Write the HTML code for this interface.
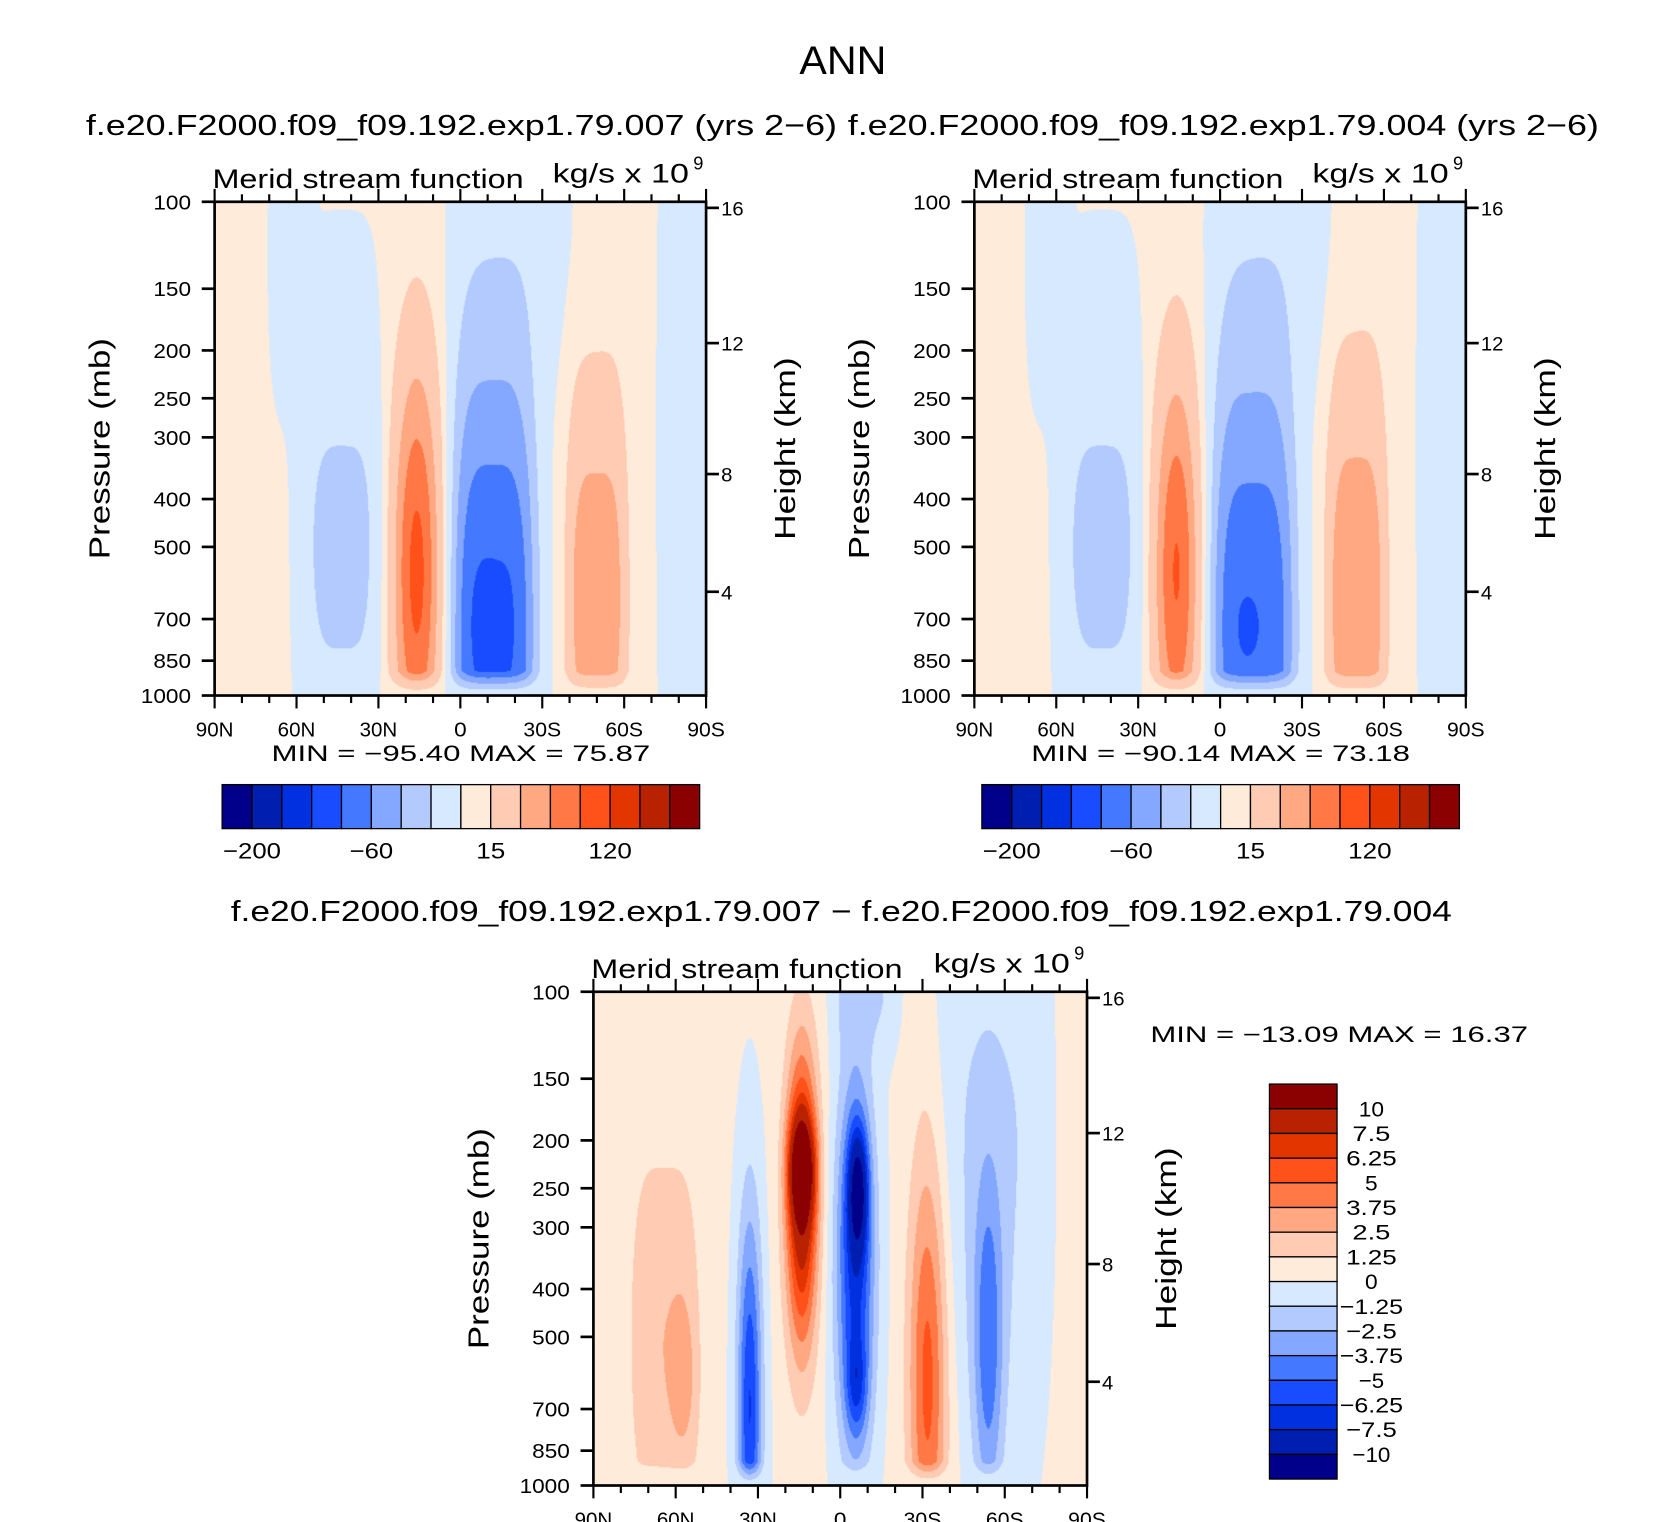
<!DOCTYPE html>
<html><head><meta charset="utf-8">
<style>
html,body{margin:0;padding:0;background:#fff;width:1674px;height:1522px;overflow:hidden}
#wrap{position:absolute;left:0;top:0;width:1560px;height:1418px;transform:scale(1.07308,1.07334);transform-origin:0 0}
canvas{position:absolute}
svg{position:absolute;left:0;top:0}
text{font-family:"Liberation Sans",sans-serif;fill:#000}
</style></head><body>
<div id="wrap">
<canvas id="c1" width="458" height="460" style="left:200px;top:188px"></canvas>
<canvas id="c2" width="458" height="460" style="left:908px;top:188px"></canvas>
<canvas id="c3" width="460" height="460" style="left:553px;top:924px"></canvas>
<svg id="s" width="1560" height="1418" viewBox="0 0 1560 1418"></svg>
</div>
<script>
// ---- shared data ----
const colors=["#00008a","#001fb0","#0030e0","#1a4cff","#4478ff","#84a8ff","#b3caff","#d7e9ff","#ffebd9","#ffcbb3","#ffa882","#ff7845","#ff5119","#e33500","#b82200","#8b0000"];
const levelsAbs=[-200,-160,-120,-80,-60,-40,-20,0,15,40,60,80,120,160,200];
const levelsAbsLabels=["-200","-60","15","120"];
const levelsDiff=[-10,-7.5,-6.25,-5,-3.75,-2.5,-1.25,0,1.25,2.5,3.75,5,6.25,7.5,10];
const levelsDiffLabels=["-10","-7.5","-6.25","-5","-3.75","-2.5","-1.25","0","1.25","2.5","3.75","5","6.25","7.5","10"];
const pressureTicks=[100,150,200,250,300,400,500,700,850,1000];
const heightTicks=[4,8,12,16];
const latTicks=[90,60,30,0,-30,-60,-90];
const latTickLabels=["90N","60N","30N","0","30S","60S","90S"];
// ---- panel 1 (exp 007) cells ----
const p1Lat=[16,-12,-10,43,-50,62,-85,-20];
const p1Pres=[562,724,724,501,631,126,316,130];
const p1LatWidth=[9,15.8,4,15,11,8,12,22];
const p1Shape=[2,4,2,4,4,4,4,4];
const p1Depth=[0.44,0.56,0.08,0.4,0.42,0.3,1.0,0.25];
const p1Amp=[85,-86,-12,-28,55,-6,-7,-7];
// ---- panel 2 (exp 004) cells ----
const p2Lat=[16,-12,-10,43,-50,63,-85,-20];
const p2Pres=[562,724,724,501,631,126,316,130];
const p2LatWidth=[8.5,15.8,3,15,11,8,12,22];
const p2Shape=[2,4,2,4,4,4,4,4];
const p2Depth=[0.42,0.56,0.05,0.4,0.45,0.3,1.0,0.25];
const p2Amp=[80,-80,-10,-28,57,-6,-7,-8];
// ---- panel 3 (difference) cells ----
const p3Lat=[14,14,-6.5,-5.5,-6,33,-32,-54,64,57,-55,-9];
const p3Pres=[229,263,251,355,631,692,603,525,501,617,200,100];
const p3LatWidth=[4.5,5.8,3.5,7,4,4.5,7,5.5,13,5,20,12];
const p3Shape=[2,2,2,2,2,2,2,2,4,2,4,4];
const p3Depth=[0.1,0.3,0.12,0.38,0.1,0.4,0.45,0.35,0.4,0.15,0.6,0.12];
const p3Amp=[8,9,-7,-7,-3,-6.5,5.3,-4.2,2.2,1.2,-1.5,-1.5];

function vOf(p){return Math.log10(p/100);}
function draw(id,W,H,lat,pres,lw,sh,dp,amp,levels,offset){
  const cv=document.getElementById(id),ctx=cv.getContext('2d');
  const img=ctx.createImageData(W,H);
  const rgb=colors.map(c=>[parseInt(c.substr(1,2),16),parseInt(c.substr(3,2),16),parseInt(c.substr(5,2),16)]);
  const vc=pres.map(vOf);
  for(let j=0;j<H;j++){
    const v=(j+0.5)/H;
    const taper=Math.min(1,(1-v)/0.05);
    for(let i=0;i<W;i++){
      const la=90-(i+0.5)/W*180;
      let s=offset;
      for(let k=0;k<lat.length;k++){
        const dl=Math.abs(la-lat[k])/lw[k],dv=(v-vc[k])/dp[k];
        s+=amp[k]*Math.exp(-Math.pow(dl,sh[k])-dv*dv);
      }
      s*=taper;
      let idx=0;for(const L of levels){if(s>=L)idx++;}
      const c=rgb[idx],o=(j*W+i)*4;
      img.data[o]=c[0];img.data[o+1]=c[1];img.data[o+2]=c[2];img.data[o+3]=255;
    }
  }
  ctx.putImageData(img,0,0);
}
draw('c1',458,460,p1Lat,p1Pres,p1LatWidth,p1Shape,p1Depth,p1Amp,levelsAbs,1.5);
draw('c2',458,460,p2Lat,p2Pres,p2LatWidth,p2Shape,p2Depth,p2Amp,levelsAbs,1.5);
draw('c3',460,460,p3Lat,p3Pres,p3LatWidth,p3Shape,p3Depth,p3Amp,levelsDiff,0.2);

const NS='http://www.w3.org/2000/svg',S=document.getElementById('s');
function el(tag,attrs,txt){const e=document.createElementNS(NS,tag);for(const k in attrs)e.setAttribute(k,attrs[k]);if(txt!==undefined)e.textContent=txt;S.appendChild(e);return e;}
function wt(attrs,s,len){attrs.textLength=len;attrs.lengthAdjust='spacingAndGlyphs';return el('text',attrs,s);}
function hPres(z){const m=z*1000;return m<=11000?1013.25*Math.pow(1-2.25577e-5*m,5.25588):226.32*Math.exp(-(m-11000)/6341.6);}

function axes(x0,y0,W,H,tag){
  const ys=p=>y0+vOf(p)*H, xs=l=>x0+(90-l)/180*W;
  let e=el('rect',{x:x0,y:y0,width:W,height:H,fill:'none',stroke:'#000','stroke-width':2.5});
  
  pressureTicks.forEach(p=>{
    let t=el('line',{x1:x0-12,x2:x0,y1:ys(p),y2:ys(p),stroke:'#000','stroke-width':2.5});
    
    const s=String(p);
    let l=wt({x:x0-22-s.length*11.7,y:ys(p)+7,'font-size':19},s,s.length*11.7);
    
  });
  heightTicks.forEach(z=>{
    const y=ys(hPres(z));
    let t=el('line',{x1:x0+W,x2:x0+W+12,y1:y,y2:y,stroke:'#000','stroke-width':2.5});
    
    const s=String(z);
    let l=wt({x:x0+W+14,y:y+7,'font-size':18},s,s.length*10.5);
    
  });
  for(let la=90;la>=-90;la-=10){
    const x=xs(la),maj=la%30===0,len=maj?12:7;
    let t=el('line',{x1:x,x2:x,y1:y0+H,y2:y0+H+len,stroke:'#000','stroke-width':2});
    
    let t2=el('line',{x1:x,x2:x,y1:y0,y2:y0-len,stroke:'#000','stroke-width':2});
    
  }
  latTicks.forEach((la,i)=>{
    const s=latTickLabels[i];
    let l=wt({x:xs(la)-s.length*11.7/2,y:y0+H+38,'font-size':19},s,s.length*11.7);
    
  });
  let a=wt({x:-103,y:0,'font-size':27,transform:`translate(${x0-98},${y0+230}) rotate(-90)`},'Pressure (mb)',206);
  
  let b=wt({x:-85,y:0,'font-size':27,transform:`translate(${x0+W+83},${y0+230}) rotate(-90)`},'Height (km)',170);
  
  let c=wt({x:x0-2,y:y0-13,'font-size':25},'Merid stream function',290);
  
  let d=wt({x:x0+W-143,y:y0-18,'font-size':25},'kg/s x 10',127);
  
  let d2=el('text',{x:x0+W-12,y:y0-30,'font-size':17},'9');
  
}
axes(200,188,458,460,'panel1');
axes(908,188,458,460,'panel2');
axes(553,924,460,460,'panel3');

function hbar(x0,y0,tag){
  const bw=445/16;
  colors.forEach((c,i)=>{
    let r=el('rect',{x:x0+i*bw,y:y0,width:bw,height:41,fill:c,stroke:'#000','stroke-width':1.2});
    
  });
  levelsAbsLabels.forEach((lab)=>{
    const idx=levelsAbs.indexOf(Number(lab)),L=lab.length*13.5;
    let t=wt({x:x0+(idx+1)*bw-L/2,y:y0+69,'font-size':21},lab.replace('-','\u2212'),L);
    
  });
}
hbar(207,731,'panel1');hbar(915,731,'panel2');
(function(){
  const x0=1183,y0=1010,bh=23;
  colors.slice().reverse().forEach((c,i)=>{
    let r=el('rect',{x:x0,y:y0+i*bh,width:63,height:bh,fill:c,stroke:'#000','stroke-width':1.2});
    
  });
  levelsDiffLabels.slice().reverse().forEach((lab,i)=>{
    const L=lab.length*11.8;
    let t=wt({x:1278-L/2,y:y0+(i+1)*bh+7,'font-size':20},lab.replace('-','\u2212'),L);
    
  });
})();

function txt(x,y,size,s,name,len){let t=wt({x:x,y:y,'font-size':size},s,len);}
txt(745,69,37,'ANN','main-title',81);
txt(80,126,27,'f.e20.F2000.f09_f09.192.exp1.79.007 (yrs 2\u22126)','panel1-case-title',700);
txt(790,126,27,'f.e20.F2000.f09_f09.192.exp1.79.004 (yrs 2\u22126)','panel2-case-title',700);
txt(253,709,21,'MIN = \u221295.40   MAX =  75.87','panel1-minmax',353);
txt(961,709,21,'MIN = \u221290.14   MAX =  73.18','panel2-minmax',353);
txt(215,858,27,'f.e20.F2000.f09_f09.192.exp1.79.007 \u2212 f.e20.F2000.f09_f09.192.exp1.79.004','panel3-title',1138);
txt(1072,971,21,'MIN = \u221213.09   MAX =  16.37','panel3-minmax',352);
</script>
</body></html>
